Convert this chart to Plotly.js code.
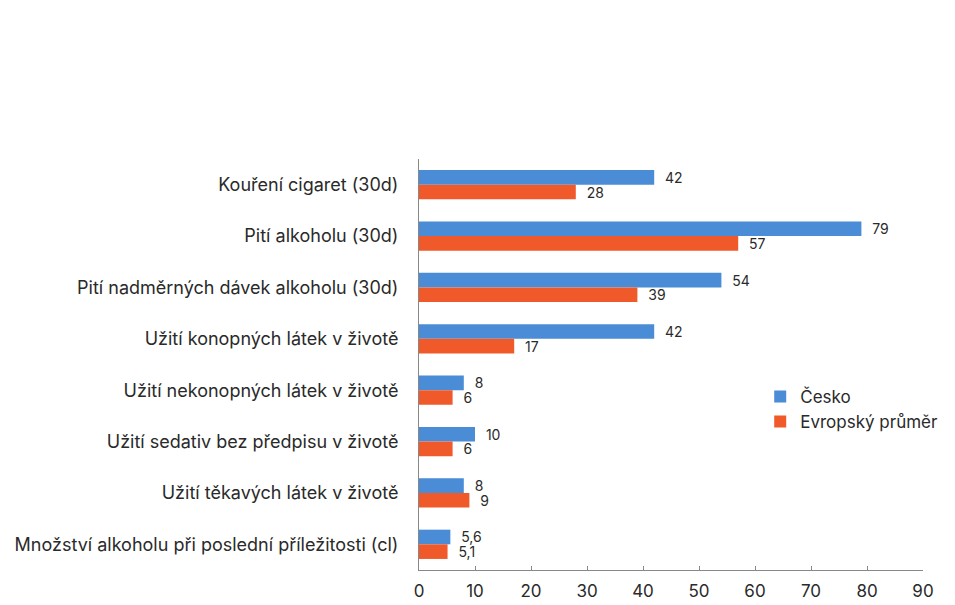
<!DOCTYPE html>
<html>
<head>
<meta charset="utf-8">
<script src="https://cdn.plot.ly/plotly-3.0.1.min.js"></script>
<style>html,body{margin:0;padding:0;background:#fff;}#chart{width:955px;height:605px;}</style>
</head>
<body>
<div id="chart"></div>
<script>
const categories = [
  "Kouření cigaret (30d)",
  "Pití alkoholu (30d)",
  "Pití nadměrných dávek alkoholu (30d)",
  "Užití konopných látek v životě",
  "Užití nekonopných látek v životě",
  "Užití sedativ bez předpisu v životě",
  "Užití těkavých látek v životě",
  "Množství alkoholu při poslední příležitosti (cl)"
];
const cesko = [42, 79, 54, 42, 8, 10, 8, 5.6];
const evropa = [28, 57, 39, 17, 6, 6, 9, 5.1];
const xTicks = [0, 10, 20, 30, 40, 50, 60, 70, 80, 90];

const fmt = v => "\u00a0\u00a0" + String(v).replace(".", ",");
const FONT = "Inter, 'Noto Sans', sans-serif";

const traces = [
  {type: "bar", orientation: "h", name: "Česko", y: categories, x: cesko,
   text: cesko.map(fmt), textposition: "outside", cliponaxis: false, constraintext: "none",
   marker: {color: "#4a8cd6"}, textfont: {size: 14, color: "#2a2a2a", family: FONT}},
  {type: "bar", orientation: "h", name: "Evropský průměr", y: categories, x: evropa,
   text: evropa.map(fmt), textposition: "outside", cliponaxis: false, constraintext: "none",
   marker: {color: "#f05a2b"}, textfont: {size: 14, color: "#2a2a2a", family: FONT}}
];

const layout = {
  width: 955, height: 605,
  paper_bgcolor: "#ffffff", plot_bgcolor: "#ffffff",
  margin: {l: 419, r: 27, t: 159, b: 35},
  barmode: "group", bargap: 0.43, bargroupgap: 0,
  font: {family: FONT, size: 17, color: "#2a2a2a"},
  xaxis: {range: [0, 90], tickvals: xTicks, ticktext: xTicks.map(String), automargin: false,
          showgrid: false, zeroline: false, showline: true, linecolor: "#888", linewidth: 1,
          ticks: "inside", ticklen: 4, tickcolor: "#888", ticklabelstandoff: 6,
          tickfont: {size: 17, color: "#2a2a2a"}, fixedrange: true},
  yaxis: {autorange: "reversed", showgrid: false, zeroline: false, showline: true, automargin: false,
          linecolor: "#888", linewidth: 1, ticks: "", ticklabelstandoff: 16,
          tickfont: {size: 18, color: "#2a2a2a"}, fixedrange: true},
  legend: {x: 0.677, y: 0.465, xanchor: "left", yanchor: "top", bgcolor: "rgba(0,0,0,0)",
           font: {size: 17, color: "#2a2a2a"}, itemwidth: 30, tracegroupgap: 8},
  showlegend: true
};

Plotly.newPlot("chart", traces, layout, {displayModeBar: false, staticPlot: true});
</script>
</body>
</html>
